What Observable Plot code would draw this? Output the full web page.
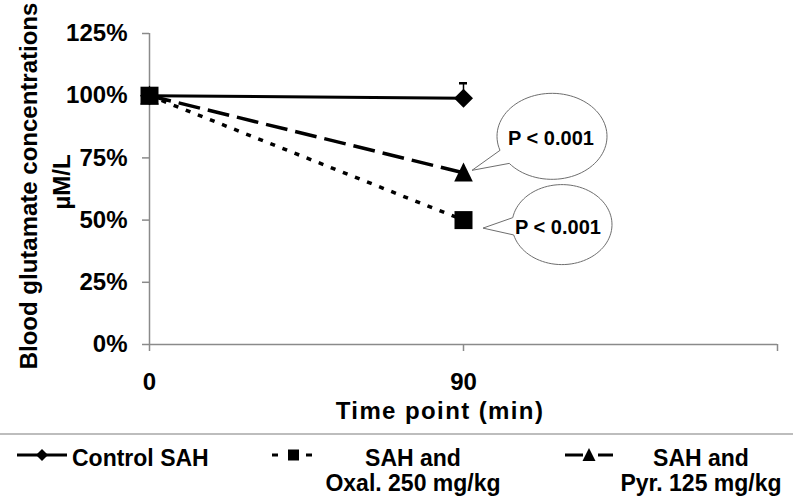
<!DOCTYPE html>
<html><head><meta charset="utf-8">
<script src="https://cdn.jsdelivr.net/npm/d3@7"></script>
<script src="https://cdn.jsdelivr.net/npm/@observablehq/plot@0.6"></script>
<style>
html,body{margin:0;padding:0;background:#fff;}
#wrap{position:relative;width:793px;height:498px;overflow:hidden;font-family:"Liberation Sans",Arial,sans-serif;background:#fff;}
#chart{position:absolute;left:0;top:0;}
#legend{position:absolute;left:0;top:433px;width:793px;height:63px;border-top:2px solid #bdbdbd;}
#legend svg{position:absolute;left:0;top:0;}
.item{position:absolute;font-weight:bold;font-size:23px;line-height:25px;color:#000;white-space:nowrap;}
#chart g[aria-label="y-axis tick"], #chart g[aria-label="x-axis tick"]{stroke:#8a8a8a !important;stroke-width:1.5px;}
#chart .tick line{stroke:#8a8a8a;}
</style></head><body>
<div id="wrap"><div id="chart"></div><div id="legend"></div></div>
<script>
// ---- data ----
const series = ["Control SAH", "SAH and Oxal. 250 mg/kg", "SAH and Pyr. 125 mg/kg"];
const timePoints = [0, 90];
const controlValues = [100, 99];
const oxalValues = [100, 50];
const pyrValues = [100, 69];
const controlErrorUpper = [null, 105];
const yTicks = [0, 25, 50, 75, 100, 125];
const xTicks = [0, 90, 180];
const xTickLabels = ["0", "90", ""];
const pLabels = ["P < 0.001", "P < 0.001"];
const pSeries = ["SAH and Pyr. 125 mg/kg", "SAH and Oxal. 250 mg/kg"];
const xTitle = "Time point (min)";
const yTitle = ["Blood glutamate concentrations", "µM/L"];

// ---- build table ----
const valuesBySeries = {[series[0]]: controlValues, [series[1]]: oxalValues, [series[2]]: pyrValues};
const rows = [];
series.forEach(s => timePoints.forEach((t, i) => rows.push({series: s, time: t, value: valuesBySeries[s][i]})));
const bySeries = s => rows.filter(d => d.series === s);
const errRows = timePoints.map((t, i) => ({time: t, value: controlValues[i], upper: controlErrorUpper[i]})).filter(d => d.upper != null);

// custom symbols
const symSquare = {draw(ctx, size){const s = Math.sqrt(size) / 2; ctx.rect(-s, -s, 2*s, 2*s);}};
const symDiamond = {draw(ctx, size){const s = Math.sqrt(size) / 2; ctx.moveTo(0, -s); ctx.lineTo(s, 0); ctx.lineTo(0, s); ctx.lineTo(-s, 0); ctx.closePath();}};
const symTriangle = {draw(ctx, size){const s = Math.sqrt(size) / 2; ctx.moveTo(0, -s*1.08); ctx.lineTo(s*0.98, s*0.92); ctx.lineTo(-s*0.98, s*0.92); ctx.closePath();}};
const rFor = side => side / Math.sqrt(Math.PI);

const font = '"Liberation Sans", Arial, sans-serif';
const plot = Plot.plot({
  width: 793, height: 433,
  marginLeft: 149, marginRight: 16, marginTop: 33, marginBottom: 89,
  style: {fontFamily: font, fontSize: "24px", fontWeight: "bold", color: "#000", background: "#fff", overflow: "visible"},
  x: {domain: [0, 180], ticks: xTicks, tickFormat: d => xTickLabels[xTicks.indexOf(d)], tickSize: 7, tickPadding: 21, label: null},
  y: {domain: [0, 125], ticks: yTicks, tickFormat: d => d + "%", tickSize: 7, tickPadding: 15, label: null},
  marks: [
    Plot.ruleY([0], {stroke: "#8a8a8a", strokeWidth: 1.5}),
    Plot.ruleX([0], {stroke: "#8a8a8a", strokeWidth: 1.5}),
    Plot.line(bySeries(series[0]), {x: "time", y: "value", stroke: "#000", strokeWidth: 3}),
    Plot.line(bySeries(series[2]), {x: "time", y: "value", stroke: "#000", strokeWidth: 3.5, strokeDasharray: "22,8", strokeLinecap: "butt"}),
    Plot.line(bySeries(series[1]), {x: "time", y: "value", stroke: "#000", strokeWidth: 3.5, strokeDasharray: "5,8", strokeLinecap: "butt"}),
    Plot.ruleX(errRows, {x: "time", y1: "value", y2: "upper", stroke: "#000", strokeWidth: 1.5}),
    Plot.ruleY(errRows, {y: "upper", x1: "time", x2: "time", insetLeft: -4, insetRight: -4, stroke: "#000", strokeWidth: 2.5}),
    Plot.dot(bySeries(series[0]), {x: "time", y: "value", symbol: symDiamond, r: rFor(19), fill: "#000", stroke: "none"}),
    Plot.dot(bySeries(series[2]), {x: "time", y: "value", symbol: symTriangle, r: rFor(19), fill: "#000", stroke: "none"}),
    Plot.dot(bySeries(series[1]), {x: "time", y: "value", symbol: symSquare, r: rFor(18), fill: "#000", stroke: "none"})
  ]
});
document.getElementById("chart").appendChild(plot);

const sx = plot.scale("x"), sy = plot.scale("y");
const svg = d3.select(plot);

// axis titles
svg.append("text").attr("transform", "translate(37,186) rotate(-90)").attr("text-anchor", "middle")
  .attr("font-family", font).attr("font-weight", "bold").attr("font-size", 24).attr("fill", "#000").text(yTitle[0]);
svg.append("text").attr("transform", "translate(70,182) rotate(-90)").attr("text-anchor", "middle")
  .attr("font-family", font).attr("font-weight", "bold").attr("font-size", 24).attr("fill", "#000").text(yTitle[1]);
svg.append("text").attr("x", 440).attr("y", 419).attr("text-anchor", "middle").attr("letter-spacing", "1.4px")
  .attr("font-family", font).attr("font-weight", "bold").attr("font-size", 24).attr("fill", "#000").text(xTitle);

// speech-bubble annotations (geometry = styling offsets from the data point)
const bubbleStyle = [
  {cx: 89, cy: -36, rx: 55, ry: 43, a1: 141, a2: 161, tx: 9, ty: -2, lx: 88, ly: -35},
  {cx: 99, cy: 5, rx: 50, ry: 40, a1: 165, a2: 190, tx: 20, ty: 8.5, lx: 95, ly: 7.5}
];
function bubblePath(cx, cy, rx, ry, a1, a2, tx, ty) {
  const pts = [], start = a2, end = a1 + 360, n = 90;
  for (let i = 0; i <= n; i++) {
    const a = (start + (end - start) * i / n) * Math.PI / 180;
    pts.push([cx + rx * Math.cos(a), cy + ry * Math.sin(a)]);
  }
  pts.push([tx, ty]);
  return "M" + pts.map(p => p[0].toFixed(2) + "," + p[1].toFixed(2)).join("L") + "Z";
}
pLabels.forEach((lab, i) => {
  const vals = valuesBySeries[pSeries[i]];
  const px = sx.apply(timePoints[1]), py = sy.apply(vals[1]);
  const b = bubbleStyle[i];
  svg.append("path").attr("d", bubblePath(px + b.cx, py + b.cy, b.rx, b.ry, b.a1, b.a2, px + b.tx, py + b.ty))
    .attr("fill", "#fff").attr("stroke", "#6e6e6e").attr("stroke-width", 1);
  svg.append("text").attr("x", px + b.lx).attr("y", py + b.ly).attr("dy", "0.36em").attr("text-anchor", "middle")
    .attr("font-family", font).attr("font-weight", "bold").attr("font-size", 20).attr("fill", "#000").text(lab);
});

// ---- legend ----
const legend = d3.select("#legend");
const lsvg = legend.append("svg").attr("width", 793).attr("height", 63);
const ly = 20;
// item 1
lsvg.append("line").attr("x1", 17).attr("x2", 67).attr("y1", ly).attr("y2", ly).attr("stroke", "#000").attr("stroke-width", 3);
lsvg.append("path").attr("d", `M42,${ly-6}L48,${ly}L42,${ly+6}L36,${ly}Z`).attr("fill", "#000");
// item 2
lsvg.append("line").attr("x1", 272).attr("x2", 278).attr("y1", ly).attr("y2", ly).attr("stroke", "#000").attr("stroke-width", 3);
lsvg.append("line").attr("x1", 306).attr("x2", 312).attr("y1", ly).attr("y2", ly).attr("stroke", "#000").attr("stroke-width", 3);
lsvg.append("rect").attr("x", 288).attr("y", ly - 5.5).attr("width", 11).attr("height", 11).attr("fill", "#000");
// item 3
lsvg.append("line").attr("x1", 565).attr("x2", 583).attr("y1", ly).attr("y2", ly).attr("stroke", "#000").attr("stroke-width", 3);
lsvg.append("line").attr("x1", 598).attr("x2", 613).attr("y1", ly).attr("y2", ly).attr("stroke", "#000").attr("stroke-width", 3);
lsvg.append("path").attr("d", `M589,${ly-7}L595.5,${ly+6}L582.5,${ly+6}Z`).attr("fill", "#000");

legend.append("div").attr("class", "item").style("left", "72px").style("top", "11px").text(series[0]);
legend.append("div").attr("class", "item").style("left", "313px").style("top", "11px").style("width", "200px").style("text-align", "center")
  .html("SAH and<br>Oxal. 250 mg/kg");
legend.append("div").attr("class", "item").style("left", "601px").style("top", "11px").style("width", "200px").style("text-align", "center")
  .html("SAH and<br>Pyr. 125 mg/kg");
</script>
</body></html>
